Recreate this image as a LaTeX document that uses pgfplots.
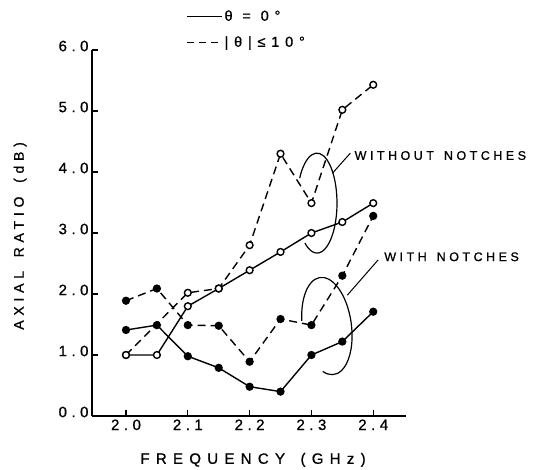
\documentclass[border=0pt]{standalone}
\usepackage{pgfplots}
\pgfplotsset{compat=1.18}
\usepackage{fontspec}
\setmainfont{Liberation Sans}
\newfontfamily\tickfont[LetterSpace=30, FakeBold=0.8]{Liberation Sans}
\newfontfamily\legfont[LetterSpace=40, FakeBold=0.8]{Liberation Sans}
\newfontfamily\labfont[LetterSpace=42, FakeBold=0.8]{Liberation Sans}
\newfontfamily\ylabfont[LetterSpace=34, FakeBold=0.8]{Liberation Sans}
\newfontfamily\notefont[LetterSpace=28, FakeBold=0.8]{Liberation Sans}

\begin{document}
\begin{tikzpicture}
\begin{axis}[
  name=ax, at={(0,0)}, anchor=south west,
  scale only axis, width=314pt, height=366pt,
  xmin=1.945, xmax=2.453, ymin=0, ymax=6,
  axis lines=left, axis line style={-, line width=1.4pt},
  tick align=inside, major tick length=6pt,
  tick style={black, line width=1.2pt},
  xtick={2.0,2.1,2.2,2.3,2.4},
  xticklabels={2.0,2.1,2.2,2.3,2.4},
  ytick={0,1,2,3,4,5,6},
  yticklabels={0.0,1.0,2.0,3.0,4.0,5.0,6.0},
  ticklabel style={font=\fontsize{15}{17}\tickfont},
  yticklabel style={yshift=4pt},
  xlabel={FREQUENCY\hspace{5pt} (GHz)},
  ylabel={AXIAL\hspace{5pt} RATIO\hspace{5pt} (dB)},
  xlabel style={at={(axis description cs:0.513,-0.12)}, anchor=center, font=\fontsize{15}{17}\labfont},
  ylabel style={at={(axis description cs:-0.229,0.492)}, anchor=center, font=\fontsize{14}{16}\ylabfont},
  clip=false,
  every axis plot/.append style={black, line width=1.4pt, mark size=3.4pt},
  legend style={draw=none, fill=none, at={(0.29,1.12)}, anchor=north west,
    font=\fontsize{14.5}{16}\legfont, row sep=10pt, legend cell align=left},
  legend image code/.code={\draw[#1, line width=1.3pt] (0pt,0pt) -- (35pt,0pt);},
]
\addlegendimage{solid}
\addlegendentry{θ = 0°}
\addlegendimage{dash pattern=on 7pt off 5pt}
\addlegendentry{|θ|≤10°}

% theta = 0, without notches
\addplot[solid, mark=*, mark options={solid, fill=white}] coordinates {
  (2.00,1.00) (2.05,1.00) (2.10,1.80) (2.15,2.09) (2.20,2.39)
  (2.25,2.69) (2.30,3.00) (2.35,3.18) (2.40,3.49)
};
% |theta| <= 10, without notches
\addplot[dash pattern=on 8pt off 5pt, mark=*, mark options={solid, fill=white}] coordinates {
  (2.00,1.00) (2.10,2.02) (2.15,2.09) (2.20,2.80) (2.25,4.30)
  (2.30,3.49) (2.35,5.02) (2.40,5.43)
};
% theta = 0, with notches
\addplot[solid, mark=*, mark options={solid, fill=black}] coordinates {
  (2.00,1.41) (2.05,1.49) (2.10,0.98) (2.15,0.79) (2.20,0.48)
  (2.25,0.40) (2.30,1.00) (2.35,1.22) (2.40,1.71)
};
% |theta| <= 10, with notches
\addplot[dash pattern=on 8pt off 5pt, mark=*, mark options={solid, fill=black}] coordinates {
  (2.00,1.89) (2.05,2.09) (2.10,1.49) (2.15,1.48) (2.20,0.89)
  (2.25,1.59) (2.30,1.49) (2.35,2.30) (2.40,3.28)
};

% callouts
\draw[line width=1.2pt] (axis cs:2.309,3.49) ++(150:20pt and 50pt)
  arc[start angle=150, end angle=-127, x radius=20pt, y radius=50pt];
\draw[line width=1pt] (axis cs:2.334,3.98) -- (axis cs:2.363,4.31);
\node[anchor=west, inner sep=1pt, font=\fontsize{12.5}{14}\notefont] at (axis cs:2.368,4.27) {WITHOUT\hspace{3pt} NOTCHES};

\draw[line width=1.2pt, rotate around={8:(axis cs:2.325,1.475)}] (axis cs:2.325,1.475) ++(170:24.5pt and 49pt)
  arc[start angle=170, end angle=-115, x radius=24.5pt, y radius=49pt];
\draw[line width=1pt] (axis cs:2.358,1.98) -- (axis cs:2.408,2.56);
\node[anchor=west, inner sep=1pt, font=\fontsize{12.5}{14}\notefont] at (axis cs:2.416,2.61) {WITH\hspace{3pt} NOTCHES};
\end{axis}
\pgfresetboundingbox
\path[use as bounding box] (ax.south west) ++(-92pt,-53pt) rectangle ++(535pt,469pt);
\end{tikzpicture}
\end{document}
